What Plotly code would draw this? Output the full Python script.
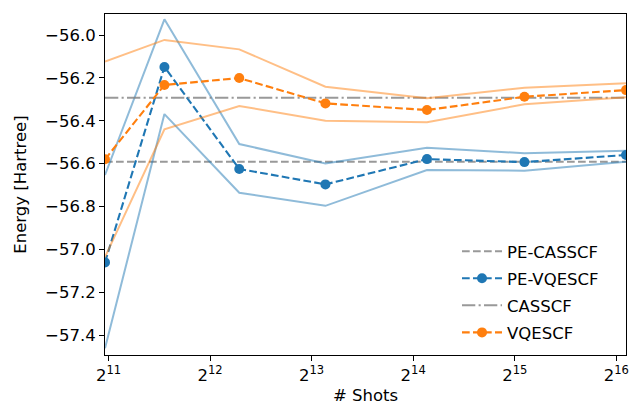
import plotly.graph_objects as go
import numpy as np

shots = [2000, 3000, 5000, 9000, 18000, 35000, 70000]

pe_vqe_mean = [-57.061, -56.149, -56.625, -56.697, -56.579, -56.593, -56.560]
pe_vqe_upper = [-56.653, -55.927, -56.509, -56.599, -56.526, -56.552, -56.540]
pe_vqe_lower = [-57.462, -56.369, -56.736, -56.797, -56.630, -56.633, -56.591]

vqe_mean = [-56.580, -56.233, -56.201, -56.319, -56.350, -56.288, -56.257]
vqe_upper = [-56.124, -56.023, -56.067, -56.241, -56.295, -56.246, -56.225]
vqe_lower = [-57.036, -56.440, -56.331, -56.400, -56.407, -56.323, -56.291]

pe_casscf = -56.591
casscf = -56.293

x_tick_exps = [11, 12, 13, 14, 15, 16]
y_ticks = [-56.0, -56.2, -56.4, -56.6, -56.8, -57.0, -57.2, -57.4]

BLUE = "#1f77b4"
ORANGE = "#ff7f0e"
BLUE_L = "rgba(31,119,180,0.5)"
ORANGE_L = "rgba(255,127,14,0.5)"
GREY = "rgba(128,128,128,0.8)"
FONT = "DejaVu Sans"
FS = 16.5

fig = go.Figure()
xr = [min(shots), max(shots)]

fig.add_trace(go.Scatter(x=xr, y=[pe_casscf, pe_casscf], mode="lines", name="PE-CASSCF",
                         legendgroup="a",
                         line=dict(color=GREY, width=2, dash="7.7px,3.3px")))
for band in (pe_vqe_upper, pe_vqe_lower):
    fig.add_trace(go.Scatter(x=shots, y=band, mode="lines", showlegend=False,
                             line=dict(color=BLUE_L, width=2)))
fig.add_trace(go.Scatter(x=shots, y=pe_vqe_mean, mode="lines+markers", name="PE-VQESCF",
                         legendgroup="b",
                         line=dict(color=BLUE, width=2.1, dash="7.7px,3.3px"),
                         marker=dict(color=BLUE, size=10)))
fig.add_trace(go.Scatter(x=xr, y=[casscf, casscf], mode="lines", name="CASSCF",
                         legendgroup="c",
                         line=dict(color=GREY, width=2, dash="13.3px,3.3px,2.1px,3.3px")))
for band in (vqe_upper, vqe_lower):
    fig.add_trace(go.Scatter(x=shots, y=band, mode="lines", showlegend=False,
                             line=dict(color=ORANGE_L, width=2)))
fig.add_trace(go.Scatter(x=shots, y=vqe_mean, mode="lines+markers", name="VQESCF",
                         legendgroup="d",
                         line=dict(color=ORANGE, width=2.1, dash="7.7px,3.3px"),
                         marker=dict(color=ORANGE, size=10)))

left, right, top, bottom = 105, 626, 14, 355
W, H = 631, 405

fig.update_layout(
    width=W, height=H,
    margin=dict(l=left, r=W - right, t=top, b=H - bottom, pad=0, autoexpand=False),
    paper_bgcolor="white", plot_bgcolor="white",
    font=dict(family=FONT, size=FS, color="black"),
    legend=dict(x=(457 - left) / (right - left), xanchor="left",
                y=1 - (234 - top) / (bottom - top),
                yanchor="top", bgcolor="rgba(0,0,0,0)", borderwidth=0,
                font=dict(family=FONT, size=FS), itemwidth=40, tracegroupgap=2.6),
    showlegend=True,
)
fig.update_xaxes(type="log", range=[np.log10(xr[0]), np.log10(xr[1])],
                 tickvals=[2 ** e for e in x_tick_exps],
                 ticktext=[f"2<sup>{e}</sup>" for e in x_tick_exps],
                 ticks="outside", ticklen=5, tickcolor="black", tickwidth=1,
                 showline=True, linecolor="black", linewidth=1, mirror=True,
                 showgrid=False, zeroline=False, automargin=False,
                 title=dict(text="# Shots", font=dict(size=FS), standoff=8),
                 tickfont=dict(size=FS))
fig.update_yaxes(range=[-57.493, -55.902],
                 tickvals=y_ticks, ticktext=[f"\u2212{abs(v):.1f}" for v in y_ticks],
                 ticks="outside", ticklen=5, tickcolor="black", tickwidth=1,
                 showline=True, linecolor="black", linewidth=1, mirror=True,
                 showgrid=False, zeroline=False, automargin=False,
                 title=dict(text="Energy [Hartree]", font=dict(size=FS), standoff=14),
                 tickfont=dict(size=FS))

fig.write_html("out.html", config={"displayModeBar": False},
               post_script="document.body.style.margin='0';document.body.style.padding='0';")
